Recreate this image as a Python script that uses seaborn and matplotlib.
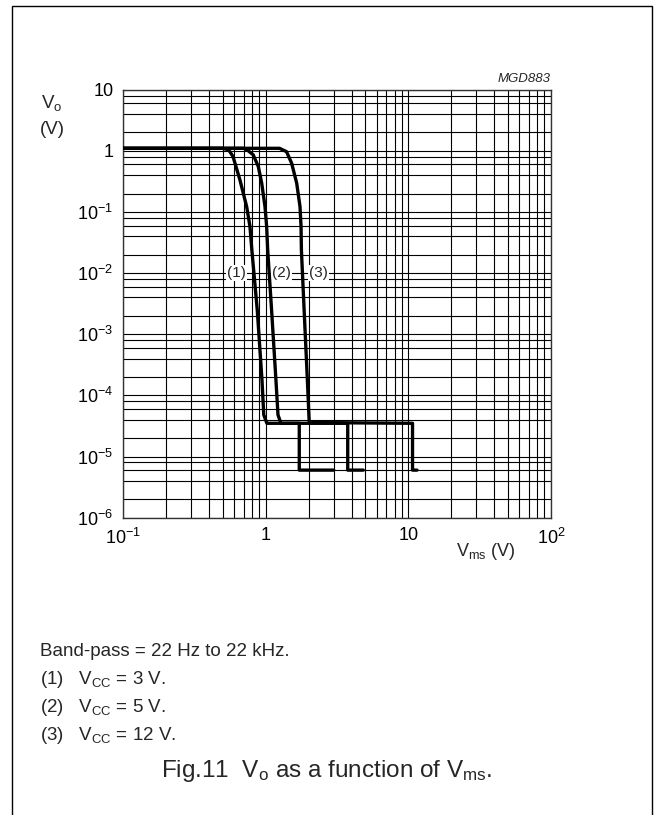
import numpy as np
import pandas as pd
import matplotlib
matplotlib.use('Agg')
import matplotlib.pyplot as plt
from matplotlib.patches import Rectangle
from matplotlib.ticker import FixedLocator, NullFormatter
import seaborn as sns

# data (V_ms in V, V_o in V)
vcc3_x = [0.1, 0.50, 0.55, 0.59, 0.66, 0.736, 0.776, 0.80, 0.873, 0.942, 0.97, 1.02, 1.72, 1.72, 3.0]
vcc3_y = [1.1, 1.1, 1.04, 0.81, 0.335, 0.122, 0.058, 0.024, 0.0025, 1.8e-4, 4.8e-5, 3.5e-5, 3.5e-5, 6e-6, 6e-6]

vcc5_x = [0.1, 0.70, 0.74, 0.818, 0.888, 0.938, 0.989, 1.016, 1.033, 1.10, 1.18, 1.22, 1.28, 3.76, 3.76, 4.83]
vcc5_y = [1.1, 1.1, 1.04, 0.86, 0.553, 0.296, 0.123, 0.058, 0.024, 0.0025, 1.8e-4, 4.8e-5, 3.5e-5, 3.5e-5, 6e-6, 6e-6]

vcc12_x = [0.1, 1.25, 1.40, 1.52, 1.65, 1.74, 1.77, 1.78, 1.86, 1.96, 2.02, 10.7, 10.7, 11.5]
vcc12_y = [1.1, 1.1, 0.97, 0.63, 0.296, 0.123, 0.058, 0.024, 0.0025, 1.8e-4, 3.6e-5, 3.5e-5, 6e-6, 6e-6]

curve_names = ['(1)', '(2)', '(3)']
label_x = [0.627, 1.29, 2.34]
label_y = [0.01, 0.01, 0.01]

x_ticks = [0.1, 1, 10, 100]
x_ticklabels = [r'$10^{-1}$', '1', '10', r'$10^{2}$']
y_ticks = [1e-6, 1e-5, 1e-4, 1e-3, 1e-2, 1e-1, 1, 10]
y_ticklabels = [r'$10^{-6}$', r'$10^{-5}$', r'$10^{-4}$', r'$10^{-3}$',
                r'$10^{-2}$', r'$10^{-1}$', '1', '10']

notes = ['Band-pass = 22 Hz to 22 kHz.',
         r'(1)   V$_{\rm CC}$ = 3 V.',
         r'(2)   V$_{\rm CC}$ = 5 V.',
         r'(3)   V$_{\rm CC}$ = 12 V.']

df = pd.concat([
    pd.DataFrame({'vms': vcc3_x, 'vo': vcc3_y, 'curve': '(1)'}),
    pd.DataFrame({'vms': vcc5_x, 'vo': vcc5_y, 'curve': '(2)'}),
    pd.DataFrame({'vms': vcc12_x, 'vo': vcc12_y, 'curve': '(3)'}),
], ignore_index=True)

sns.set_theme(style='white')
plt.rcParams['font.family'] = ['Liberation Sans', 'DejaVu Sans']
plt.rcParams['mathtext.fontset'] = 'custom'
plt.rcParams['mathtext.rm'] = 'Liberation Sans'
plt.rcParams['mathtext.it'] = 'Liberation Sans:italic'
plt.rcParams['mathtext.bf'] = 'Liberation Sans:bold'

fig = plt.figure(figsize=(6.54, 8.15), dpi=100)
ax = fig.add_axes([123 / 654, 1 - 517.7 / 815, 428 / 654, 428 / 815])

ax.set_xscale('log')
ax.set_yscale('log')
ax.set_xlim(0.1, 100)
ax.set_ylim(1e-6, 10)

# grid: all minors on x, 2-4-6-8 on y
ax.xaxis.set_major_locator(FixedLocator(x_ticks))
ax.xaxis.set_minor_locator(FixedLocator([m * 10.0 ** e for e in range(-1, 2) for m in range(2, 10)]))
ax.yaxis.set_major_locator(FixedLocator(y_ticks))
ax.yaxis.set_minor_locator(FixedLocator([m * 10.0 ** e for e in range(-6, 1) for m in (2, 4, 6, 8)]))
ax.xaxis.set_minor_formatter(NullFormatter())
ax.yaxis.set_minor_formatter(NullFormatter())
ax.set_xticklabels(x_ticklabels)
ax.set_yticklabels(y_ticklabels)
ax.grid(which='both', color='black', lw=0.8, zorder=0)
ax.set_axisbelow(True)
ax.tick_params(which='both', length=0, labelsize=13, colors='black')
ax.tick_params(axis='y', pad=7)
ax.tick_params(axis='x', pad=7)
for s in ax.spines.values():
    s.set_color('#333333')
    s.set_linewidth(1.0)

sns.lineplot(data=df, x='vms', y='vo', units='curve', estimator=None, sort=False,
             color='black', lw=2.4, ax=ax, zorder=5)
ax.set_xlabel('')
ax.set_ylabel('')

for name, lx, ly in zip(curve_names, label_x, label_y):
    ax.text(lx, ly, name, fontsize=11, ha='center', va='center', zorder=3,
            bbox=dict(facecolor='white', edgecolor='none', pad=0.8))

# axis titles
fig.text(52 / 654, 1 - 103 / 815, r'V$_{\rm o}$', fontsize=13.5, ha='center', va='center')
fig.text(52 / 654, 1 - 130 / 815, '(V)', fontsize=13.5, ha='center', va='center')
fig.text(486 / 654, 1 - 551 / 815, r'V$_{\rm ms}$ (V)', fontsize=13, ha='center', va='center')
fig.text(551 / 654, 1 - 79 / 815, 'MGD883', fontsize=9.5, style='italic', ha='right', va='center')

# notes and caption
note_y = [652, 680, 707, 735]
for t, ny in zip(notes, note_y):
    fig.text(40 / 654, 1 - ny / 815, t, fontsize=13.5, ha='left', va='center')
fig.text(327 / 654, 1 - 771 / 815, r'Fig.11  V$_{\rm o}$ as a function of V$_{\rm ms}$.',
         fontsize=17.5, ha='center', va='center')

# outer frame
fig.patches.append(Rectangle((12 / 654, -0.05), 640 / 654, 0.05 + 1 - 6 / 815,
                             transform=fig.transFigure, fill=False,
                             edgecolor='black', lw=1.0))

fig.savefig('out.png', dpi=100)
